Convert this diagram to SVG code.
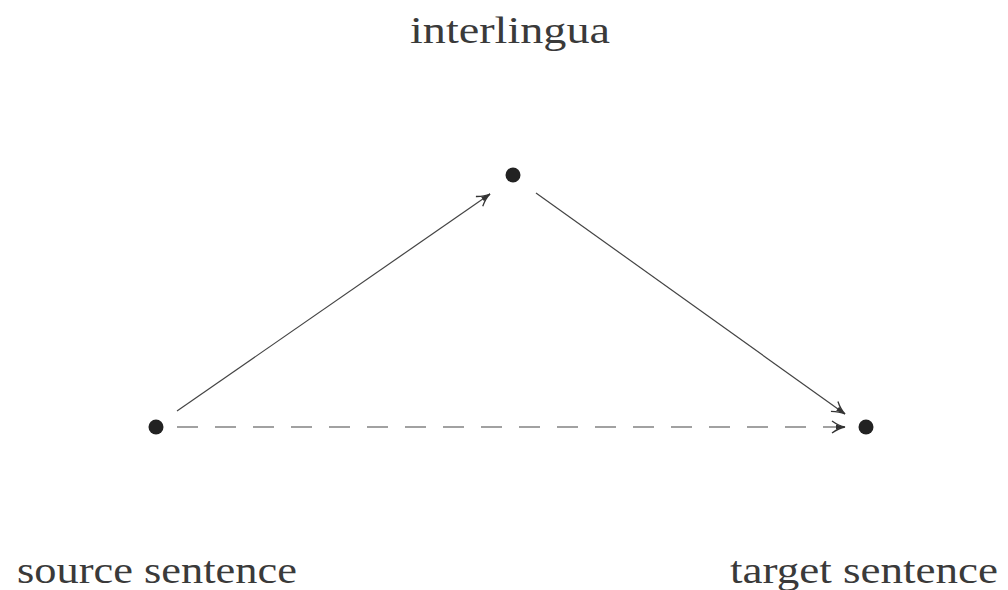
<svg xmlns="http://www.w3.org/2000/svg" width="1008" height="590" viewBox="0 0 1008 590">
<style>
.lbl{font-family:"Liberation Serif","DejaVu Serif",serif;font-size:38px;fill:#3a3a3a}
.edge{stroke:#444;stroke-width:1.2;fill:none}
.dot{fill:#222}
</style>
<defs>
<marker id="arr" viewBox="-14 -7 16 14" refX="0" refY="0" markerWidth="16" markerHeight="14" markerUnits="userSpaceOnUse" orient="auto">
<path d="M-13,-6 Q-6,-1 0,0 Q-6,1 -13,6" fill="none" stroke="#333" stroke-width="1.3"/>
<path d="M-9,-2.5 L0,0 L-9,2.5 Z" fill="#333"/>
</marker>
</defs>
<rect width="1008" height="590" fill="#fff"/>
<g id="edges">
<path class="edge" d="M177,411 L490,194" marker-end="url(#arr)"/>
<path class="edge" d="M536,193 L845,414" marker-end="url(#arr)"/>
<path class="edge" d="M177,427 L845,427" stroke-dasharray="21 17" marker-end="url(#arr)"/>
</g>
<g id="interlingua">
<circle class="dot" cx="513" cy="175" r="7.5"/>
<text class="lbl" x="410" y="43" textLength="200" lengthAdjust="spacingAndGlyphs">interlingua</text>
</g>
<g id="source">
<circle class="dot" cx="156" cy="427" r="7.5"/>
<text class="lbl" x="17" y="583" textLength="280" lengthAdjust="spacingAndGlyphs">source sentence</text>
</g>
<g id="target">
<circle class="dot" cx="866" cy="427" r="7.5"/>
<text class="lbl" x="730" y="583" textLength="268" lengthAdjust="spacingAndGlyphs">target sentence</text>
</g>
</svg>
